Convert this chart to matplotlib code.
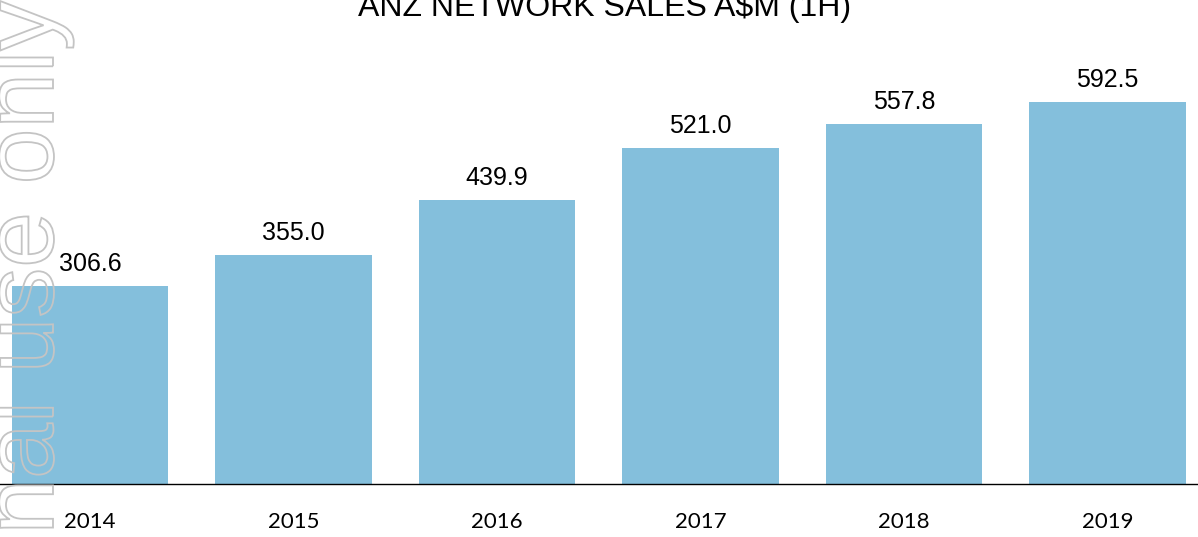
import matplotlib
matplotlib.use("Agg")
import matplotlib.pyplot as plt
from matplotlib.textpath import TextPath
from matplotlib.patches import PathPatch
from matplotlib.font_manager import FontProperties
from matplotlib.transforms import Affine2D

# ANZ network sales, A$m, first half
YEARS = ["2014", "2015", "2016", "2017", "2018", "2019"]
SALES = [306.6, 355.0, 439.9, 521.0, 557.8, 592.5]
TITLE = "ANZ NETWORK SALES A$M (1H)"
WATERMARK = "For personal use only"

BAR_COLOR = "#84bfdc"

fig = plt.figure(figsize=(11.98, 5.37), dpi=100)
ax = fig.add_axes([0, 53 / 537, 1, 484 / 537])

x = list(range(len(YEARS)))
bars = ax.bar(x, SALES, width=0.77, color=BAR_COLOR, zorder=2)

for xi, val in zip(x, SALES):
    ax.annotate(f"{val:.1f}", (xi, val), xytext=(0, 10.8), textcoords="offset points",
                ha="center", va="baseline", fontsize=18, family="Liberation Sans",
                color="black")

ax.set_xlim(-0.442, 5.445)
ax.set_ylim(0, 750)
ax.set_xticks(x)
ax.set_xticklabels(YEARS, fontsize=16, family="Lato")
ax.tick_params(axis="x", length=0, pad=20)
ax.set_yticks([])
for side in ["top", "left", "right"]:
    ax.spines[side].set_visible(False)
ax.spines["bottom"].set_linewidth(1.0)
ax.spines["bottom"].set_color("black")
ax.spines["bottom"].set_zorder(3)

# title, cut off at the top edge as in the source slide
fig.text(605 / 1198, (537 - 16) / 537, TITLE, ha="center", va="baseline",
         fontsize=23, family="Liberation Sans", color="black")

# hollow vertical watermark on the left edge
tp = TextPath((0, 0), WATERMARK, size=100, prop=FontProperties(family="Liberation Sans"))
ext = tp.get_extents()
trans = Affine2D().rotate_deg(90).translate(53, 536 - ext.x1)
patch = PathPatch(tp, facecolor="none", edgecolor="#c4c4c4", linewidth=1.3,
                  transform=trans, zorder=10)
fig.add_artist(patch)

fig.savefig("out.png", dpi=100)
